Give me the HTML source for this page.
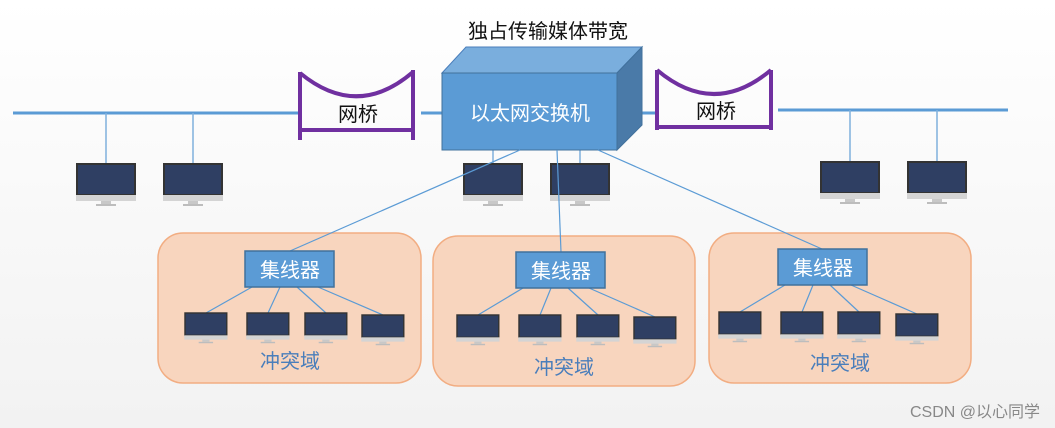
<!DOCTYPE html>
<html><head><meta charset="utf-8"><style>
html,body{margin:0;padding:0;background:#fbfbfb;}
svg{display:block;}
text{font-family:"Liberation Sans","Noto Sans CJK SC",sans-serif;}
</style></head><body>
<svg width="1055" height="428" viewBox="0 0 1055 428" xmlns="http://www.w3.org/2000/svg">
<defs>
<linearGradient id="bg" x1="0" y1="0" x2="0" y2="1"><stop offset="0" stop-color="#ffffff"/><stop offset="1" stop-color="#f2f2f2"/></linearGradient>
<g id="mon">
<rect x="0" y="0" width="58" height="31" fill="#2f3f63" stroke="#333" stroke-width="2"/>
<rect x="-1" y="31" width="60" height="6" fill="#d4d4d4"/>
<rect x="24" y="37" width="10" height="3" fill="#c8c8c8"/>
<rect x="19" y="40" width="20" height="2" fill="#bdbdbd"/>
</g>
</defs>
<rect width="1055" height="428" fill="url(#bg)"/>
<text x="548" y="38" font-size="20" text-anchor="middle" fill="#111">独占传输媒体带宽</text>
<!-- lines -->
<g stroke="#5b9bd5" stroke-width="3">
<line x1="13" y1="113" x2="298" y2="113"/>
<line x1="421" y1="113" x2="442" y2="113"/>
<line x1="617" y1="113" x2="657" y2="113"/>
<line x1="778" y1="110" x2="1008" y2="110"/>
</g>
<g stroke="#7fb0dd" stroke-width="1.5">
<line x1="106" y1="113" x2="106" y2="163"/><line x1="193" y1="113" x2="193" y2="163"/>
<line x1="493" y1="150" x2="493" y2="163"/><line x1="580" y1="150" x2="580" y2="163"/>
<line x1="850" y1="110" x2="850" y2="161"/><line x1="937" y1="110" x2="937" y2="161"/>
</g>
<!-- bridges -->
<g stroke="#7030a0" stroke-width="4" fill="none">
<line x1="300" y1="72" x2="300" y2="140"/><line x1="413" y1="70" x2="413" y2="140"/>
<line x1="300" y1="130" x2="413" y2="130"/>
<path d="M300 73 Q357 120 413 72"/>
<line x1="657" y1="70" x2="657" y2="130"/><line x1="771" y1="70" x2="771" y2="130"/>
<line x1="657" y1="127" x2="771" y2="127"/>
<path d="M657 70 Q714 118 771 70"/>
</g>
<text x="358" y="121" font-size="20" text-anchor="middle" fill="#111">网桥</text>
<text x="716" y="118" font-size="20" text-anchor="middle" fill="#111">网桥</text>
<!-- switch -->
<polygon points="442,73 466,47 642,47 617,73" fill="#7aaedd" stroke="#4a7ebb"/>
<polygon points="617,73 642,47 642,125 617,150" fill="#4a7aa8" stroke="#41719c"/>
<rect x="442" y="73" width="175" height="77" fill="#5b9bd5" stroke="#41719c"/>
<text x="530" y="120" font-size="20" text-anchor="middle" fill="#fff">以太网交换机</text>
<!-- top monitors -->
<use href="#mon" x="77" y="164"/><use href="#mon" x="164" y="164"/>
<use href="#mon" x="464" y="164"/><use href="#mon" x="551" y="164"/>
<use href="#mon" x="821" y="162"/><use href="#mon" x="908" y="162"/>
<!-- domains -->
<g fill="#f8d5be" stroke="#f2ad82" stroke-width="1.5">
<rect x="158" y="233" width="263" height="150" rx="25"/>
<rect x="433" y="236" width="262" height="150" rx="25"/>
<rect x="709" y="233" width="262" height="150" rx="25"/>
</g>
<g stroke="#5b9bd5" stroke-width="1.2">
<line x1="520" y1="150" x2="290" y2="251"/>
<line x1="557" y1="150" x2="561" y2="252"/>
<line x1="598" y1="150" x2="822" y2="249"/>
<line x1="252" y1="287" x2="206" y2="313"/><line x1="280" y1="287" x2="268" y2="313"/><line x1="297" y1="287" x2="326" y2="313"/><line x1="318" y1="287" x2="383" y2="315"/>
<line x1="523" y1="288" x2="478" y2="315"/><line x1="551" y1="288" x2="540" y2="315"/><line x1="568" y1="288" x2="598" y2="315"/><line x1="589" y1="288" x2="655" y2="317"/>
<line x1="785" y1="285" x2="740" y2="312"/><line x1="813" y1="285" x2="802" y2="312"/><line x1="830" y1="285" x2="859" y2="312"/><line x1="851" y1="285" x2="917" y2="314"/>
</g>
<g fill="#5b9bd5" stroke="#41719c" stroke-width="1.5">
<rect x="245" y="251" width="89" height="36"/>
<rect x="516" y="252" width="89" height="36"/>
<rect x="778" y="249" width="89" height="36"/>
</g>
<g font-size="20" text-anchor="middle" fill="#fff">
<text x="290" y="277">集线器</text><text x="561" y="278">集线器</text><text x="823" y="275">集线器</text>
</g>
<g transform="translate(185,313) scale(0.72)"><use href="#mon"/></g>
<g transform="translate(247,313) scale(0.72)"><use href="#mon"/></g>
<g transform="translate(305,313) scale(0.72)"><use href="#mon"/></g>
<g transform="translate(362,315) scale(0.72)"><use href="#mon"/></g>
<g transform="translate(457,315) scale(0.72)"><use href="#mon"/></g>
<g transform="translate(519,315) scale(0.72)"><use href="#mon"/></g>
<g transform="translate(577,315) scale(0.72)"><use href="#mon"/></g>
<g transform="translate(634,317) scale(0.72)"><use href="#mon"/></g>
<g transform="translate(719,312) scale(0.72)"><use href="#mon"/></g>
<g transform="translate(781,312) scale(0.72)"><use href="#mon"/></g>
<g transform="translate(838,312) scale(0.72)"><use href="#mon"/></g>
<g transform="translate(896,314) scale(0.72)"><use href="#mon"/></g>
<g font-size="20" text-anchor="middle" fill="#4a7ebb">
<text x="290" y="368">冲突域</text><text x="564" y="374">冲突域</text><text x="840" y="370">冲突域</text>
</g>
<text x="1040" y="417" font-size="16" text-anchor="end" fill="#888">CSDN @以心同学</text>
</svg>
</body></html>
